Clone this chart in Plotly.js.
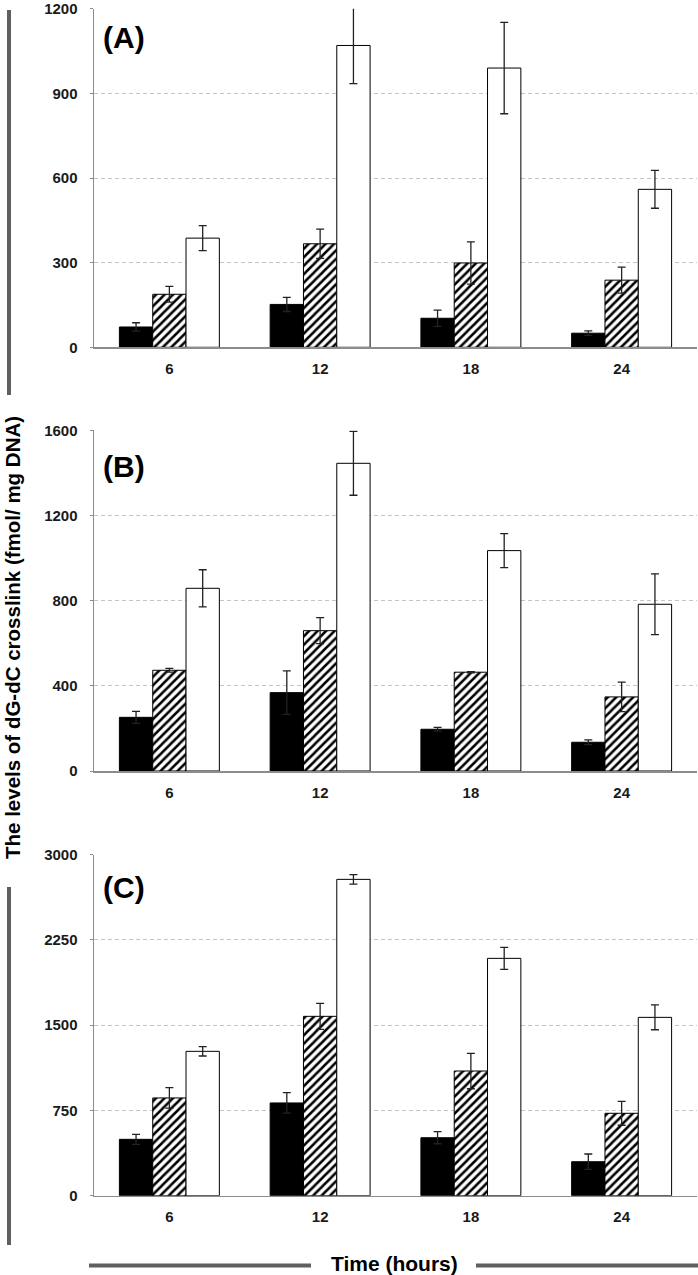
<!DOCTYPE html>
<html>
<head>
<meta charset="utf-8">
<script src="https://cdn.plot.ly/plotly-3.0.1.min.js"></script>
<style>html,body{margin:0;padding:0;background:#fff;}#chart{width:698px;height:1275px;}</style>
</head>
<body>
<div id="chart"></div>
<script>
// Categories (time in hours)
var categories = ['6', '12', '18', '24'];

// Panel A
var A_black = [72, 152, 103, 50];
var A_black_err = [15, 25, 29, 8];
var A_hatch = [188, 367, 299, 238];
var A_hatch_err = [28, 52, 75, 46];
var A_white = [387, 1070, 990, 560];
var A_white_err = [44, 135, 162, 67];

// Panel B
var B_black = [252, 368, 196, 135];
var B_black_err = [28, 102, 9, 11];
var B_hatch = [473, 659, 464, 348];
var B_hatch_err = [9, 61, 3, 69];
var B_white = [858, 1445, 1035, 783];
var B_white_err = [87, 150, 80, 143];

// Panel C
var C_black = [496, 816, 510, 299];
var C_black_err = [44, 90, 53, 68];
var C_hatch = [860, 1578, 1097, 725];
var C_hatch_err = [90, 114, 156, 105];
var C_white = [1270, 2783, 2088, 1569];
var C_white_err = [41, 41, 97, 109];

var yRanges = [[0, 1200], [0, 1600], [0, 3000]];
var yTicks = [[0, 300, 600, 900, 1200], [0, 400, 800, 1200, 1600], [0, 750, 1500, 2250, 3000]];
var panelLabels = ['(A)', '(B)', '(C)'];
var yTitle = 'The levels of dG-dC crosslink (fmol/ mg DNA)';
var xTitle = 'Time (hours)';

var panels = [
  [A_black, A_black_err, A_hatch, A_hatch_err, A_white, A_white_err],
  [B_black, B_black_err, B_hatch, B_hatch_err, B_white, B_white_err],
  [C_black, C_black_err, C_hatch, C_hatch_err, C_white, C_white_err]
];

var W = 698, H = 1275;
function py(px) { return 1 - px / H; }
function pxx(px) { return px / W; }

var FAM = 'Liberation Sans, Arial, sans-serif';
var font = {family: FAM, size: 15, color: '#1a1a1a', weight: 'bold'};

var data = [];
panels.forEach(function (p, i) {
  var xa = i === 0 ? 'x' : 'x' + (i + 1);
  var ya = i === 0 ? 'y' : 'y' + (i + 1);
  var errStyle = function (arr) {
    return {type: 'data', array: arr, visible: true, color: '#222', thickness: 1.3, width: 4};
  };
  data.push({
    type: 'bar', x: categories, y: p[0], xaxis: xa, yaxis: ya, name: 'Series 1',
    marker: {color: '#000', line: {color: '#000', width: 1}},
    error_y: errStyle(p[1]), showlegend: false, hoverinfo: 'y'
  });
  data.push({
    type: 'bar', x: categories, y: p[2], xaxis: xa, yaxis: ya, name: 'Series 2',
    marker: {color: '#fff', line: {color: '#000', width: 1},
      pattern: {shape: '/', fgcolor: '#000', bgcolor: '#fff', size: 6, solidity: 0.42}},
    error_y: errStyle(p[3]), showlegend: false, hoverinfo: 'y'
  });
  data.push({
    type: 'bar', x: categories, y: p[4], xaxis: xa, yaxis: ya, name: 'Series 3',
    marker: {color: '#fff', line: {color: '#000', width: 1}},
    error_y: errStyle(p[5]), showlegend: false, hoverinfo: 'y'
  });
});

var domains = [
  [py(347.3), py(8.8)],
  [py(771), py(430.3)],
  [py(1195.7), py(854.7)]
];

var layout = {
  width: W, height: H,
  margin: {l: 0, r: 0, t: 0, b: 0},
  paper_bgcolor: '#fff', plot_bgcolor: '#fff',
  barmode: 'group', bargap: 0.337, bargroupgap: 0,
  font: font,
  showlegend: false,
  annotations: [],
  shapes: []
};

for (var i = 0; i < 3; i++) {
  var sx = i === 0 ? 'xaxis' : 'xaxis' + (i + 1);
  var sy = i === 0 ? 'yaxis' : 'yaxis' + (i + 1);
  var yref = i === 0 ? 'y' : 'y' + (i + 1);
  var xref = i === 0 ? 'x' : 'x' + (i + 1);
  layout[sx] = {
    domain: [pxx(94), pxx(697)], anchor: yref,
    type: 'category', showline: true, linecolor: '#8c8c8c', linewidth: 1.5,
    showgrid: false, ticks: '', ticklabelstandoff: 7, tickfont: font,
    ticklabeloverflow: 'allow', fixedrange: true
  };
  layout[sy] = {
    domain: domains[i], anchor: xref,
    range: yRanges[i], tickvals: yTicks[i], ticktext: yTicks[i].map(String),
    showline: true, linecolor: '#8c8c8c', linewidth: 1.5,
    showgrid: true, gridcolor: '#c4c4c4', griddash: '4px,3px', gridwidth: 1,
    zeroline: false, ticks: 'outside', ticklen: 3, tickcolor: '#8c8c8c', tickwidth: 1,
    ticklabelstandoff: 9, tickfont: font, ticklabeloverflow: 'allow',
    fixedrange: true
  };
}

var labelY = [38, 466, 888];
panelLabels.forEach(function (t, i) {
  layout.annotations.push({
    text: t, xref: 'paper', yref: 'paper', x: pxx(101), y: py(labelY[i]),
    xanchor: 'left', yanchor: 'middle', showarrow: false,
    font: {family: FAM, size: 30, color: '#000', weight: 'bold'}
  });
});

layout.annotations.push({
  text: yTitle, xref: 'paper', yref: 'paper', x: pxx(12), y: py(638),
  xanchor: 'center', yanchor: 'middle', textangle: -90, showarrow: false,
  font: {family: FAM, size: 20.5, color: '#000', weight: 'bold'}
});
layout.annotations.push({
  text: xTitle, xref: 'paper', yref: 'paper', x: pxx(394), y: py(1263),
  xanchor: 'center', yanchor: 'middle', showarrow: false,
  font: {family: FAM, size: 21, color: '#000', weight: 'bold'}
});

var barLine = {color: '#5f5f5f', width: 4};
layout.shapes.push({type: 'line', xref: 'paper', yref: 'paper', x0: pxx(9), x1: pxx(9), y0: py(10), y1: py(395), line: barLine});
layout.shapes.push({type: 'line', xref: 'paper', yref: 'paper', x0: pxx(9), x1: pxx(9), y0: py(887), y1: py(1245), line: barLine});
layout.shapes.push({type: 'line', xref: 'paper', yref: 'paper', x0: pxx(89), x1: pxx(311), y0: py(1265.5), y1: py(1265.5), line: barLine});
layout.shapes.push({type: 'line', xref: 'paper', yref: 'paper', x0: pxx(476), x1: pxx(698), y0: py(1265.5), y1: py(1265.5), line: barLine});

Plotly.newPlot('chart', data, layout, {staticPlot: true, displayModeBar: false});
</script>
</body>
</html>
